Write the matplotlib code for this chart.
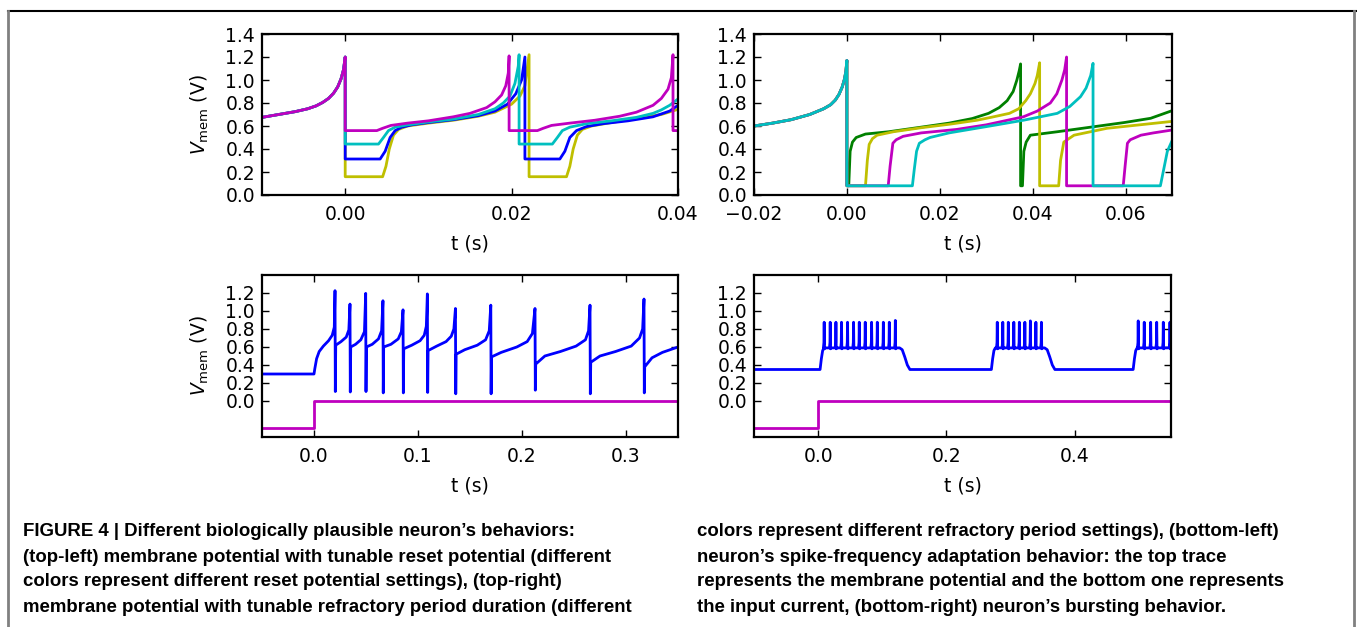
import matplotlib
matplotlib.use("Agg")
import matplotlib.pyplot as plt
from matplotlib.lines import Line2D
from matplotlib.ticker import MultipleLocator

# ---- top-left: tunable reset potential -------------------------------------
tl_pre_t = [-0.010, -0.008, -0.006, -0.0045, -0.0035, -0.0027, -0.002, -0.0014, -0.0009, -0.0005, -0.0002, 0.0]
tl_pre_v = [0.675, 0.70, 0.725, 0.75, 0.775, 0.805, 0.84, 0.885, 0.94, 1.01, 1.09, 1.20]

tl_y_t = [0.0, 0.0, 0.0045, 0.0049, 0.0053, 0.0058, 0.0064, 0.0075, 0.010, 0.013, 0.016,
          0.018, 0.020, 0.021, 0.0216, 0.0221, 0.0221, 0.0266, 0.027, 0.0274, 0.0279,
          0.0285, 0.0296, 0.032, 0.035, 0.038, 0.040]
tl_y_v = [1.20, 0.159, 0.159, 0.25, 0.40, 0.52, 0.57, 0.60, 0.625, 0.65, 0.685,
          0.72, 0.79, 0.86, 0.95, 1.22, 0.159, 0.159, 0.25, 0.40, 0.52,
          0.57, 0.60, 0.63, 0.665, 0.70, 0.745]

tl_b_t = [0.0, 0.0, 0.0042, 0.0048, 0.0054, 0.006, 0.0068, 0.008, 0.010, 0.013, 0.016,
          0.018, 0.0195, 0.0205, 0.0212, 0.0216, 0.0216, 0.0258, 0.0264, 0.027, 0.0278,
          0.029, 0.031, 0.034, 0.037, 0.039, 0.040]
tl_b_v = [1.20, 0.313, 0.313, 0.38, 0.50, 0.56, 0.59, 0.61, 0.63, 0.655, 0.69,
          0.73, 0.79, 0.88, 1.00, 1.20, 0.313, 0.313, 0.38, 0.50, 0.56,
          0.595, 0.62, 0.645, 0.68, 0.73, 0.78]

tl_c_t = [0.0, 0.0, 0.0040, 0.0046, 0.0052, 0.006, 0.0075, 0.010, 0.013, 0.016, 0.018,
          0.019, 0.0198, 0.0204, 0.0208, 0.0209, 0.0209, 0.0249, 0.0255, 0.0261, 0.027,
          0.029, 0.032, 0.035, 0.037, 0.038, 0.039, 0.040]
tl_c_v = [1.20, 0.443, 0.443, 0.50, 0.56, 0.59, 0.61, 0.635, 0.66, 0.70, 0.75,
          0.80, 0.86, 0.97, 1.12, 1.22, 0.443, 0.443, 0.50, 0.56, 0.59,
          0.62, 0.645, 0.675, 0.71, 0.74, 0.78, 0.835]

tl_m_t = [0.0, 0.0, 0.0038, 0.0045, 0.0055, 0.0075, 0.010, 0.013, 0.015, 0.017, 0.018,
          0.0188, 0.0193, 0.0196, 0.0197, 0.0197, 0.0231, 0.0238, 0.0248, 0.027, 0.030,
          0.033, 0.035, 0.037, 0.038, 0.0388, 0.0392, 0.0394, 0.0394, 0.0400]
tl_m_v = [1.20, 0.56, 0.56, 0.58, 0.605, 0.625, 0.645, 0.68, 0.71, 0.76, 0.81,
          0.87, 0.95, 1.06, 1.21, 0.56, 0.56, 0.58, 0.605, 0.625, 0.65,
          0.685, 0.72, 0.78, 0.84, 0.92, 1.02, 1.22, 0.56, 0.56]

# ---- top-right: tunable refractory period ----------------------------------
tr_pre_t = [-0.020, -0.016, -0.012, -0.008, -0.005, -0.0035, -0.0025, -0.0017, -0.001, -0.0005, -0.0002, 0.0]
tr_pre_v = [0.60, 0.625, 0.655, 0.70, 0.75, 0.785, 0.825, 0.875, 0.94, 1.01, 1.08, 1.17]

tr_g_t = [0.0, 0.0, 0.0004, 0.0007, 0.0012, 0.002, 0.004, 0.009, 0.016, 0.022, 0.027,
          0.0305, 0.0328, 0.0345, 0.0358, 0.0366, 0.0371, 0.0374, 0.0374, 0.0378, 0.0381,
          0.0386, 0.0395, 0.0453, 0.0525, 0.0597, 0.0654, 0.070]
tr_g_v = [1.17, 0.08, 0.08, 0.38, 0.46, 0.50, 0.53, 0.55, 0.59, 0.625, 0.665,
          0.71, 0.76, 0.82, 0.90, 1.00, 1.08, 1.14, 0.08, 0.08, 0.38,
          0.46, 0.52, 0.55, 0.59, 0.63, 0.667, 0.733]

tr_y_t = [0.0, 0.0, 0.0040, 0.0044, 0.0048, 0.0055, 0.0065, 0.010, 0.016, 0.022, 0.028,
          0.031, 0.035, 0.037, 0.0385, 0.0395, 0.0405, 0.041, 0.0415, 0.0415, 0.0456,
          0.046, 0.0467, 0.0489, 0.056, 0.063, 0.070]
tr_y_v = [1.17, 0.08, 0.08, 0.30, 0.44, 0.49, 0.52, 0.55, 0.585, 0.615, 0.65,
          0.675, 0.71, 0.75, 0.82, 0.88, 0.97, 1.04, 1.15, 0.08, 0.08,
          0.30, 0.46, 0.52, 0.58, 0.61, 0.64]

tr_m_t = [0.0, 0.0, 0.0089, 0.0093, 0.0099, 0.0106, 0.0121, 0.016, 0.0236, 0.030, 0.038,
          0.041, 0.0438, 0.0452, 0.0463, 0.0469, 0.0473, 0.0473, 0.0595, 0.0599, 0.0604,
          0.061, 0.0633, 0.066, 0.070]
tr_m_v = [1.17, 0.08, 0.08, 0.25, 0.45, 0.48, 0.51, 0.54, 0.57, 0.61, 0.68,
          0.73, 0.80, 0.88, 1.00, 1.09, 1.20, 0.08, 0.08, 0.25, 0.45,
          0.48, 0.52, 0.54, 0.565]

tr_c_t = [0.0, 0.0, 0.0141, 0.0145, 0.0150, 0.0156, 0.0168, 0.0179, 0.022, 0.0308, 0.038,
          0.0453, 0.048, 0.0503, 0.0515, 0.0525, 0.053, 0.053, 0.0675, 0.0682, 0.069,
          0.0701]
tr_c_v = [1.17, 0.08, 0.08, 0.22, 0.38, 0.45, 0.48, 0.50, 0.54, 0.60, 0.65,
          0.71, 0.77, 0.855, 0.93, 1.04, 1.145, 0.08, 0.08, 0.22, 0.38,
          0.48]

# ---- bottom-left: spike-frequency adaptation -------------------------------
bl_t = [-0.05, 0.0, 0.0008, 0.0025, 0.005, 0.009, 0.014, 0.0175, 0.0195, 0.0202, 0.0205, 0.0209,
        0.026, 0.031, 0.0335, 0.0346, 0.0349, 0.0353,
        0.040, 0.045, 0.0485, 0.0497, 0.0500, 0.0504,
        0.056, 0.062, 0.065, 0.0663, 0.0666, 0.0670,
        0.074, 0.081, 0.084, 0.0856, 0.0859, 0.0863,
        0.094, 0.102, 0.106, 0.108, 0.109, 0.1093, 0.1097,
        0.118, 0.127, 0.132, 0.1345, 0.136, 0.1363, 0.1367,
        0.145, 0.157, 0.165, 0.1685, 0.170, 0.1703, 0.1707,
        0.180, 0.195, 0.205, 0.210, 0.2125, 0.2128, 0.2132,
        0.222, 0.237, 0.252, 0.261, 0.264, 0.2654, 0.2657, 0.2661,
        0.275, 0.290, 0.305, 0.313, 0.316, 0.3173, 0.3176, 0.3180,
        0.325, 0.335, 0.350]
bl_v = [0.30, 0.30, 0.36, 0.47, 0.55, 0.61, 0.67, 0.73, 0.82, 1.226, 0.105, 0.62,
        0.66, 0.71, 0.79, 1.077, 0.10, 0.60,
        0.63, 0.68, 0.77, 1.196, 0.105, 0.60,
        0.63, 0.69, 0.78, 1.114, 0.09, 0.60,
        0.63, 0.69, 0.77, 1.013, 0.09, 0.58,
        0.62, 0.67, 0.73, 0.83, 1.19, 0.095, 0.56,
        0.61, 0.66, 0.72, 0.80, 1.028, 0.08, 0.52,
        0.57, 0.62, 0.68, 0.78, 1.065, 0.08, 0.49,
        0.54, 0.60, 0.66, 0.75, 1.028, 0.12, 0.41,
        0.50, 0.55, 0.61, 0.68, 0.78, 1.065, 0.08, 0.43,
        0.50, 0.55, 0.61, 0.70, 0.80, 1.133, 0.09, 0.38,
        0.48, 0.54, 0.60]

# input current step (drawn on the same axis, shifted below zero)
bl_i_t = [-0.05, 0.0, 0.0, 0.35]
bl_i_v = [-0.30, -0.30, 0.0, 0.0]

# ---- bottom-right: bursting -------------------------------------------------
br_base = 0.35
br_plateau = 0.59
br_on = [0.003, 0.270, 0.491]
br_off = [0.127, 0.353, None]
br_spikes = [
    [0.0094, 0.0188, 0.0277, 0.0364, 0.0458, 0.0552, 0.0641, 0.0734, 0.0833,
     0.0922, 0.1016, 0.1109, 0.1203],
    [0.2792, 0.2878, 0.2964, 0.3050, 0.3136, 0.3222, 0.3308, 0.3394, 0.3480],
    [0.4989, 0.5083, 0.5183, 0.5277, 0.5380, 0.5484],
]
br_peaks = [
    [0.875, 0.875, 0.875, 0.875, 0.875, 0.875, 0.875, 0.875, 0.875, 0.875, 0.875, 0.875, 0.895],
    [0.875, 0.875, 0.875, 0.875, 0.875, 0.875, 0.89, 0.875, 0.875],
    [0.89, 0.875, 0.875, 0.875, 0.875, 0.875],
]
br_i_t = [-0.1, 0.0, 0.0, 0.55]
br_i_v = [-0.30, -0.30, 0.0, 0.0]


def burst_trace(t0, t1):
    t, v = [t0], [br_base]
    for on, off, spikes, peaks in zip(br_on, br_off, br_spikes, br_peaks):
        t += [on, on + 0.002, on + 0.004, on + 0.0062]
        v += [br_base, br_base + 0.12, br_plateau - 0.03, br_plateau]
        for s, p in zip(spikes, peaks):
            t += [s - 0.0012, s - 0.0004, s, s + 0.0005, s + 0.0014]
            v += [br_plateau, br_plateau + 0.06, p, br_plateau - 0.01, br_plateau]
        if off is not None:
            t += [off, off + 0.004, off + 0.008, off + 0.012, off + 0.016]
            v += [br_plateau, br_plateau - 0.02, br_plateau - 0.10, br_plateau - 0.19, br_base]
    t.append(t1)
    v.append(v[-1])
    return t, v


plt.rcParams.update({
    "font.family": "DejaVu Sans",
    "font.size": 13.5,
    "axes.linewidth": 1.6,
    "xtick.direction": "in",
    "ytick.direction": "in",
    "xtick.top": True,
    "ytick.right": True,
    "xtick.major.size": 5,
    "ytick.major.size": 5,
    "xtick.major.width": 1.0,
    "ytick.major.width": 1.0,
    "xtick.major.pad": 7,
    "ytick.major.pad": 5,
    "lines.linewidth": 2.0,
})

fig = plt.figure(figsize=(13.57, 6.27), dpi=100)
W, H = 1357.0, 627.0


def panel(left, top, right, bottom):
    return fig.add_axes([left / W, 1 - bottom / H, (right - left) / W, (bottom - top) / H])


ax1 = panel(262, 34, 678, 195)
ax2 = panel(754, 34, 1172, 195)
ax3 = panel(262, 275, 678, 437)
ax4 = panel(754, 275, 1171, 437)

# top-left
for c, (tt, vv) in zip("ybcm", [(tl_y_t, tl_y_v), (tl_b_t, tl_b_v),
                                (tl_c_t, tl_c_v), (tl_m_t, tl_m_v)]):
    ax1.plot(tl_pre_t + tt, tl_pre_v + vv, color=c)
ax1.set_xlim(-0.01, 0.04)
ax1.set_ylim(0, 1.4)
ax1.xaxis.set_major_locator(MultipleLocator(0.02))

# top-right
for c, (tt, vv) in zip("gymc", [(tr_g_t, tr_g_v), (tr_y_t, tr_y_v),
                                (tr_m_t, tr_m_v), (tr_c_t, tr_c_v)]):
    ax2.plot(tr_pre_t + tt, tr_pre_v + vv, color=c)
ax2.set_xlim(-0.02, 0.07)
ax2.set_ylim(0, 1.4)
ax2.xaxis.set_major_locator(MultipleLocator(0.02))

for ax in (ax1, ax2):
    ax.yaxis.set_major_locator(MultipleLocator(0.2))

# bottom-left
ax3.plot(bl_t, bl_v, color="b")
ax3.plot(bl_i_t, bl_i_v, color="m")
ax3.set_xlim(-0.05, 0.35)
ax3.xaxis.set_major_locator(MultipleLocator(0.1))

# bottom-right
bt, bv = burst_trace(-0.1, 0.55)
ax4.plot(bt, bv, color="b")
ax4.plot(br_i_t, br_i_v, color="m")
ax4.set_xlim(-0.1, 0.55)
ax4.xaxis.set_major_locator(MultipleLocator(0.2))

for ax in (ax3, ax4):
    ax.set_ylim(-0.4, 1.4)
    ax.set_yticks([0.0, 0.2, 0.4, 0.6, 0.8, 1.0, 1.2])

for ax in (ax1, ax2, ax3, ax4):
    ax.set_xlabel("t (s)", labelpad=8)
for ax in (ax1, ax3):
    ax.set_ylabel(r"$V_{\mathrm{mem}}$ (V)", labelpad=10)

# outer frame of the figure box
fig.add_artist(Line2D([8 / W, 1], [1 - 10.5 / H] * 2, color="black", lw=1.5))
fig.add_artist(Line2D([8 / W] * 2, [0, 1 - 10.5 / H], color="#808080", lw=2))
fig.add_artist(Line2D([1354 / W] * 2, [0, 1 - 10.5 / H], color="#808080", lw=2))

caption_left = [
    "FIGURE 4 | Different biologically plausible neuron\u2019s behaviors:",
    "(top-left) membrane potential with tunable reset potential (different",
    "colors represent different reset potential settings), (top-right)",
    "membrane potential with tunable refractory period duration (different",
]
caption_right = [
    "colors represent different refractory period settings), (bottom-left)",
    "neuron\u2019s spike-frequency adaptation behavior: the top trace",
    "represents the membrane potential and the bottom one represents",
    "the input current, (bottom-right) neuron\u2019s bursting behavior.",
]
cap_font = dict(family=["Liberation Sans", "DejaVu Sans"],
                fontweight="bold", fontsize=13.4, va="center", ha="left")
for i, line in enumerate(caption_left):
    fig.text(23 / W, 1 - (532 + 25 * i) / H, line, **cap_font)
for i, line in enumerate(caption_right):
    fig.text(697 / W, 1 - (532 + 25 * i) / H, line, **cap_font)

fig.savefig("out.png", dpi=100)
